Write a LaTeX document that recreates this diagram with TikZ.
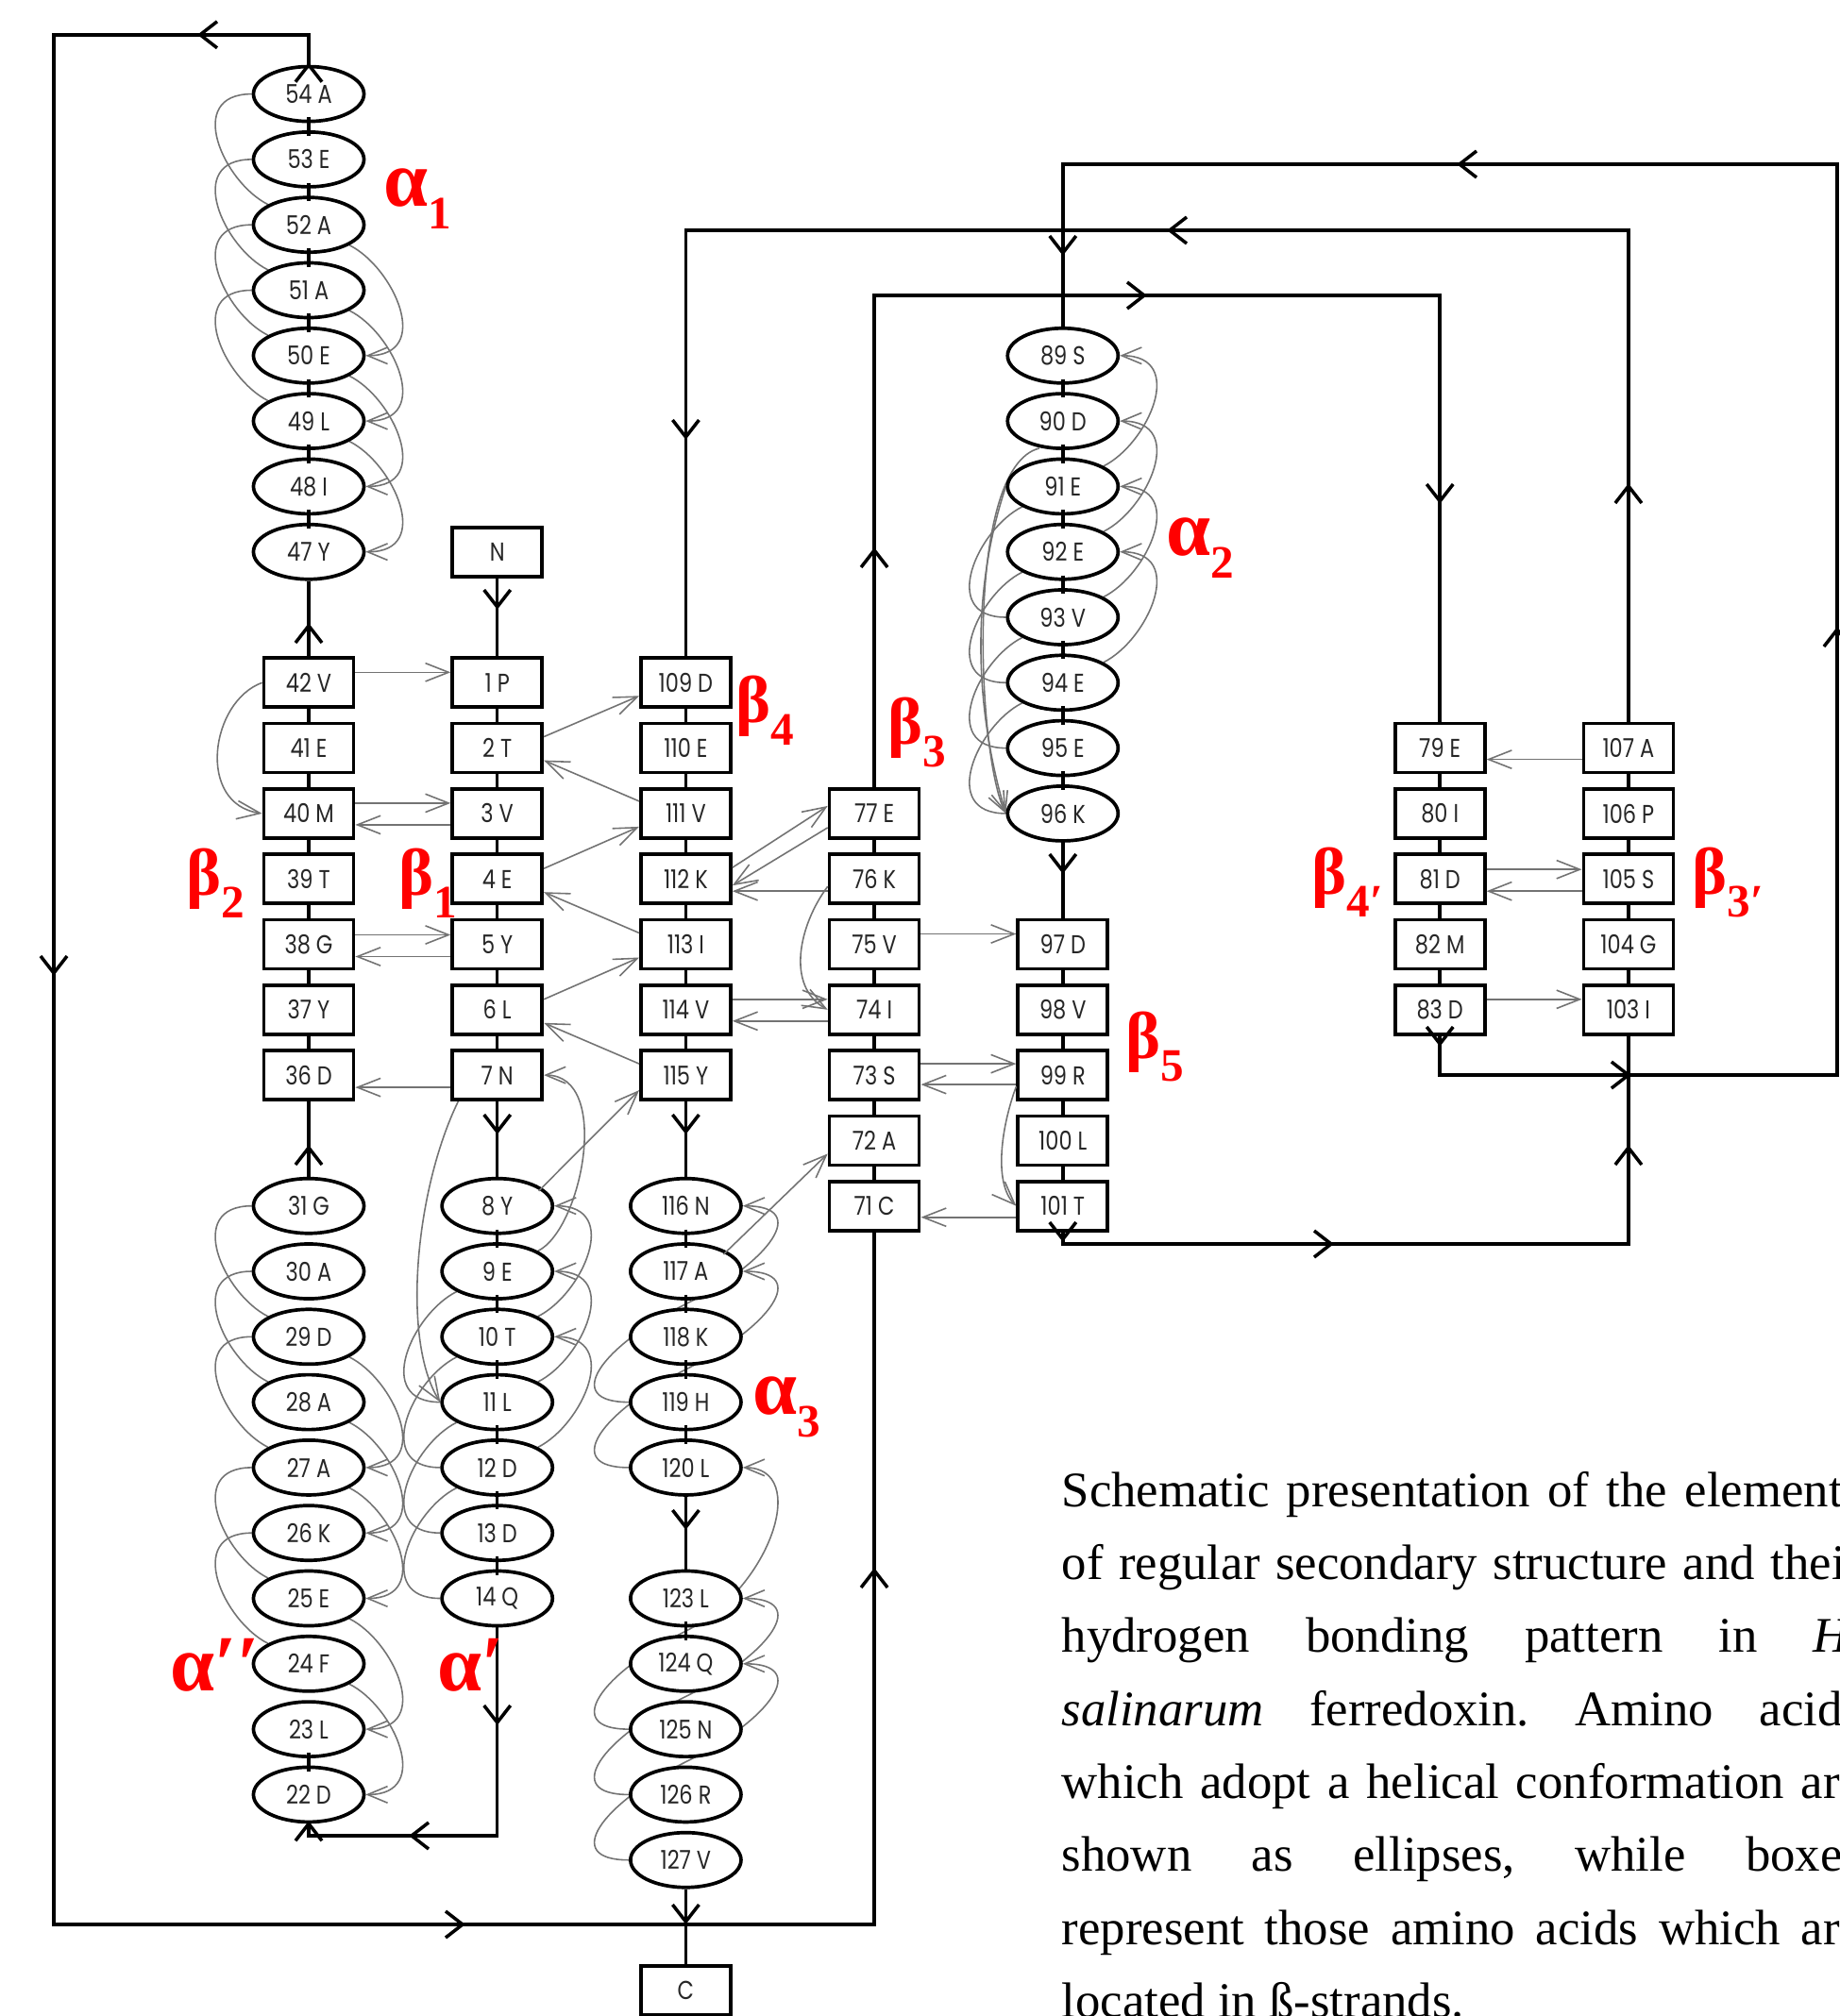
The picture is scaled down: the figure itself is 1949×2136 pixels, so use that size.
\documentclass[tikz,border=0pt]{standalone}
\usepackage{fontspec}
\setmainfont{Liberation Serif}
\newfontfamily\labfont{Poppins}[FakeStretch=0.82]
\newfontfamily\grkfont{Liberation Serif}
\usetikzlibrary{shapes.geometric,arrows.meta,calc}
\pgfdeclarelayer{bg}
\pgfsetlayers{bg,main}
\frenchspacing
\newcommand{\gsub}[1]{\raisebox{-7pt}{\fontsize{14}{14}\selectfont #1}}
\newcommand{\hx}[4]{\draw[hbl] (#1.west) .. controls +(-72,0) and ($(#2)+(-90,{45*#4})$) .. (#2) .. controls ($(#2)+(90,{-45*#4})$) and +(72,0) .. (#3.east);}
\begin{document}
\begin{tikzpicture}[x=0.01cm,y=0.01cm,
  res/.style={draw,line width=1.05pt,fill=white,inner sep=0pt,text=black!85,font=\labfont\fontsize{7.8}{9}\selectfont},
  ell/.style={res,ellipse,minimum width=1.17cm,minimum height=0.58cm},
  box/.style={res,rectangle,minimum width=0.95cm,minimum height=0.52cm},
  main/.style={line width=1pt,black},
  hbl/.style={line width=0.45pt,black!55,-{Straight Barb[length=6pt,width=5pt]}},
  hbs/.style={line width=0.45pt,black!55,-{Straight Barb[length=7pt,width=5.5pt]}},
  glab/.style={text=red,inner sep=0pt,anchor=base west},
  galpha/.style={glab,font=\grkfont\bfseries\fontsize{24}{24}\selectfont},
  gbeta/.style={glab,font=\grkfont\bfseries\fontsize{20}{20}\selectfont},
  mbarb/.pic={\draw[line width=1pt] (-18,14) -- (0,0) -- (-18,-14);}
]
\useasboundingbox (0,0) rectangle (1949,-2136);

% ---------------- nodes ----------------
\foreach \n/\r/\t in {54/0/54 A,53/1/53 E,52/2/52 A,51/3/51 A,50/4/50 E,49/5/49 L,48/6/48 I,47/7/47 Y,31/17/31 G,30/18/30 A,29/19/29 D,28/20/28 A,27/21/27 A,26/22/26 K,25/23/25 E,24/24/24 F,23/25/23 L,22/26/22 D}
  \node[ell] (a\n) at (327,{-(99.6+69.3*\r)}) {\t};
\foreach \n/\r/\t in {42/9/42 V,41/10/41 E,40/11/40 M,39/12/39 T,38/13/38 G,37/14/37 Y,36/15/36 D}
  \node[box] (a\n) at (327,{-(99.6+69.3*\r)}) {\t};
\node[box] (bN) at (526.7,{-(99.6+69.3*7)}) {N};
\foreach \n/\r/\t in {1/9/1 P,2/10/2 T,3/11/3 V,4/12/4 E,5/13/5 Y,6/14/6 L,7/15/7 N}
  \node[box] (b\n) at (526.7,{-(99.6+69.3*\r)}) {\t};
\foreach \n/\r/\t in {8/17/8 Y,9/18/9 E,10/19/10 T,11/20/11 L,12/21/12 D,13/22/13 D,14/23/14 Q}
  \node[ell] (b\n) at (526.7,{-(99.6+69.3*\r)}) {\t};
\foreach \n/\r/\t in {109/9/109 D,110/10/110 E,111/11/111 V,112/12/112 K,113/13/113 I,114/14/114 V,115/15/115 Y}
  \node[box] (c\n) at (726.4,{-(99.6+69.3*\r)}) {\t};
\foreach \n/\r/\t in {116/17/116 N,117/18/117 A,118/19/118 K,119/20/119 H,120/21/120 L,123/23/123 L,124/24/124 Q,125/25/125 N,126/26/126 R,127/27/127 V}
  \node[ell] (c\n) at (726.4,{-(99.6+69.3*\r)}) {\t};
\node[box] (cC) at (726.4,{-(99.6+69.3*29)}) {C};
\foreach \n/\r/\t in {77/11/77 E,76/12/76 K,75/13/75 V,74/14/74 I,73/15/73 S,72/16/72 A,71/17/71 C}
  \node[box] (d\n) at (926.1,{-(99.6+69.3*\r)}) {\t};
\foreach \n/\r/\t in {89/4/89 S,90/5/90 D,91/6/91 E,92/7/92 E,93/8/93 V,94/9/94 E,95/10/95 E,96/11/96 K}
  \node[ell] (e\n) at (1125.8,{-(99.6+69.3*\r)}) {\t};
\foreach \n/\r/\t in {97/13/97 D,98/14/98 V,99/15/99 R,100/16/100 L,101/17/101 T}
  \node[box] (e\n) at (1125.8,{-(99.6+69.3*\r)}) {\t};
\foreach \n/\r/\t in {79/10/79 E,80/11/80 I,81/12/81 D,82/13/82 M,83/14/83 D}
  \node[box] (f\n) at (1525.2,{-(99.6+69.3*\r)}) {\t};
\foreach \n/\r/\t in {107/10/107 A,106/11/106 P,105/12/105 S,104/13/104 G,103/14/103 I}
  \node[box] (g\n) at (1724.9,{-(99.6+69.3*\r)}) {\t};

% ---------------- helix hydrogen bonds (behind) ----------------
\coordinate (m1) at ($(c117)!0.5!(c118)$);
\coordinate (m2) at ($(c118)!0.5!(c119)$);
\coordinate (m3) at ($(c123)!0.5!(c124)$);
\coordinate (m4) at ($(c124)!0.5!(c125)$);
\coordinate (m5) at ($(c125)!0.5!(c126)$);
\begin{pgfonlayer}{bg}
\hx{a54}{a52}{a50}{1}
\hx{a53}{a51}{a49}{1}
\hx{a52}{a50}{a48}{1}
\hx{a51}{a49}{a47}{1}
\hx{a31}{a29}{a27}{1}
\hx{a30}{a28}{a26}{1}
\hx{a29}{a27}{a25}{1}
\hx{a27}{a25}{a23}{1}
\hx{a26}{a24}{a22}{1}
\hx{b11}{b9}{b7}{-1}
\hx{b12}{b10}{b8}{-1}
\hx{b13}{b11}{b9}{-1}
\hx{b14}{b12}{b10}{-1}
\hx{e93}{e91}{e89}{-1}
\hx{e94}{e92}{e90}{-1}
\hx{e95}{e93}{e91}{-1}
\hx{e96}{e94}{e92}{-1}
\hx{c119}{m1}{c116}{-1}
\hx{c120}{m2}{c117}{-1}
\hx{c125}{m3}{c120}{-1}
\hx{c126}{m4}{c123}{-1}
\hx{c127}{m5}{c124}{-1}
\draw[hbl] ($(e90.south)+(-25,2)$) .. controls +(-80,-20) and +(-30,60) .. (e96.west);
\draw[hbl] (e91.west) .. controls +(-40,-120) and +(-30,100) .. (e96.west);
\end{pgfonlayer}

% ---------------- chain connectors ----------------
\foreach \i in {47,...,53,22,...,30}{\pgfmathtruncatemacro\j{\i+1}
  \draw[main] ($(a\j.south)+(0,6)$) -- ($(a\i.north)+(0,-6)$);}
\foreach \i in {36,...,41}{\pgfmathtruncatemacro\j{\i+1}
  \draw[main] (a\j.south) -- (a\i.north);}
\foreach \i in {1,...,6}{\pgfmathtruncatemacro\j{\i+1}
  \draw[main] (b\i.south) -- (b\j.north);}
\foreach \i in {8,...,13}{\pgfmathtruncatemacro\j{\i+1}
  \draw[main] ($(b\i.south)+(0,6)$) -- ($(b\j.north)+(0,-6)$);}
\foreach \i in {109,...,114}{\pgfmathtruncatemacro\j{\i+1}
  \draw[main] (c\i.south) -- (c\j.north);}
\foreach \i in {116,...,119,123,...,126}{\pgfmathtruncatemacro\j{\i+1}
  \draw[main] ($(c\i.south)+(0,6)$) -- ($(c\j.north)+(0,-6)$);}
\foreach \i in {71,...,76}{\pgfmathtruncatemacro\j{\i+1}
  \draw[main] (d\j.south) -- (d\i.north);}
\foreach \i in {89,...,95}{\pgfmathtruncatemacro\j{\i+1}
  \draw[main] ($(e\i.south)+(0,6)$) -- ($(e\j.north)+(0,-6)$);}
\foreach \i in {97,...,100}{\pgfmathtruncatemacro\j{\i+1}
  \draw[main] (e\i.south) -- (e\j.north);}
\foreach \i in {79,...,82}{\pgfmathtruncatemacro\j{\i+1}
  \draw[main] (f\i.south) -- (f\j.north);}
\foreach \i in {103,...,106}{\pgfmathtruncatemacro\j{\i+1}
  \draw[main] (g\j.south) -- (g\i.north);}

% ---------------- main path between segments ----------------
\draw[main] (a47.south) -- (a42.north);
\pic[rotate=90] at (327,-663) {mbarb};
\draw[main] (a31.north) -- (a36.south);
\pic[rotate=90] at (327,-1216) {mbarb};
\coordinate (k1) at (526.7,-1945); \coordinate (k2) at (327,-1945);
\draw[main] (b14.south) -- (k1) -- (k2) -- (a22.south);
\pic[rotate=-90] at (526.7,-1825) {mbarb};
\pic[rotate=180] at (436,-1945) {mbarb};
\pic[rotate=90] at (a22.south) {mbarb};
\draw[main] (bN.south) -- (b1.north);
\pic[rotate=-90] at (526.7,-643) {mbarb};
\draw[main] (b7.south) -- (b8.north);
\pic[rotate=-90] at (526.7,-1199) {mbarb};
\coordinate (t1) at (327,-36.8); \coordinate (t2) at (57,-36.8);
\coordinate (t3) at (57,-2039); \coordinate (t4) at (926.1,-2039);
\draw[main] (a54.north) -- (t1) -- (t2) -- (t3) -- (t4) -- (d71.south);
\pic[rotate=90] at (a54.north) {mbarb};
\pic[rotate=180] at (212,-36.8) {mbarb};
\pic[rotate=-90] at (57,-1031) {mbarb};
\pic at (490,-2039) {mbarb};
\pic[rotate=90] at (926.1,-1664) {mbarb};
\coordinate (u1) at (926.1,-313); \coordinate (u2) at (1525.2,-313);
\draw[main] (d77.north) -- (u1) -- (u2) -- (f79.north);
\pic[rotate=90] at (926.1,-583) {mbarb};
\pic at (1212,-313) {mbarb};
\pic[rotate=-90] at (1525.2,-531) {mbarb};
\coordinate (v1) at (1525.2,-1139); \coordinate (v2) at (1946,-1139);
\coordinate (v3) at (1946,-174); \coordinate (v4) at (1125.8,-174);
\draw[main] (f83.south) -- (v1) -- (v2) -- (v3) -- (v4) -- (e89.north);
\pic[rotate=-90] at (1525.2,-1106) {mbarb};
\pic at (1724.9,-1139) {mbarb};
\pic[rotate=90] at (1946,-667) {mbarb};
\pic[rotate=180] at (1546,-174) {mbarb};
\pic[rotate=-90] at (1125.8,-268) {mbarb};
\draw[main] (e96.south) -- (e97.north);
\pic[rotate=-90] at (1125.8,-923) {mbarb};
\coordinate (w1) at (1125.8,-1318); \coordinate (w2) at (1724.9,-1318);
\draw[main] (e101.south) -- (w1) -- (w2) -- (g103.south);
\pic[rotate=-90] at (1125.8,-1313) {mbarb};
\pic at (1410,-1318) {mbarb};
\pic[rotate=90] at (1724.9,-1216) {mbarb};
\coordinate (x1) at (1724.9,-244); \coordinate (x2) at (726.4,-244);
\draw[main] (g107.north) -- (x1) -- (x2) -- (c109.north);
\pic[rotate=90] at (1724.9,-515) {mbarb};
\pic[rotate=180] at (1239,-244) {mbarb};
\pic[rotate=-90] at (726.4,-463) {mbarb};
\draw[main] (c115.south) -- (c116.north);
\pic[rotate=-90] at (726.4,-1199) {mbarb};
\draw[main] (c120.south) -- (c123.north);
\pic[rotate=-90] at (726.4,-1618) {mbarb};
\draw[main] (c127.south) -- (cC.north);
\pic[rotate=-90] at (726.4,-2036) {mbarb};

% ---------------- strand hydrogen bonds ----------------
\draw[hbs] ($(a42.east)+(0,11)$) -- ($(b1.west)+(0,11)$);
\draw[hbs] (a42.west) .. controls +(-55,-20) and +(-70,10) .. (a40.west);
\draw[hbs] ($(a40.east)+(0,11)$) -- ($(b3.west)+(0,11)$);
\draw[hbs] ($(b3.west)+(0,-12)$) -- ($(a40.east)+(0,-12)$);
\draw[hbs] ($(a38.east)+(0,10)$) -- ($(b5.west)+(0,10)$);
\draw[hbs] ($(b5.west)+(0,-13)$) -- ($(a38.east)+(0,-13)$);
\draw[hbs] ($(b7.west)+(0,-13)$) -- ($(a36.east)+(0,-13)$);
\draw[hbs] ($(b2.east)+(0,12)$) -- ($(c109.west)+(0,-14)$);
\draw[hbs] ($(c111.west)+(0,13)$) -- ($(b2.east)+(0,-13)$);
\draw[hbs] ($(b4.east)+(0,11)$) -- ($(c111.west)+(0,-14)$);
\draw[hbs] ($(c113.west)+(0,12)$) -- ($(b4.east)+(0,-14)$);
\draw[hbs] ($(b6.east)+(0,11)$) -- ($(c113.west)+(0,-14)$);
\draw[hbs] ($(c115.west)+(0,12)$) -- ($(b6.east)+(0,-14)$);
\draw[hbs] ($(b8)+(44,16)$) -- ($(c115.west)+(0,-16)$);
\draw[hbs] ($(b7.south west)+(8,0)$) .. controls (440,-1260) and (425,-1420) .. (b11.west);
\draw[hbs] ($(c112.east)+(0,12)$) -- ($(d77.west)+(0,8)$);
\draw[hbs] ($(d77.west)+(0,-15)$) -- ($(c112.east)+(0,-7)$);
\draw[hbs] ($(d76.west)+(0,-13)$) -- ($(c112.east)+(0,-13)$);
\draw[hbs] ($(c114.east)+(0,11)$) -- ($(d74.west)+(0,11)$);
\draw[hbs] ($(d74.west)+(0,-12)$) -- ($(c114.east)+(0,-12)$);
\draw[hbs] ($(d76.west)+(0,-8)$) .. controls +(-30,-40) and +(-45,25) .. (d74.west);
\draw[hbs] ($(c117)+(40,18)$) -- ($(d72.west)+(0,-14)$);
\draw[hbs] ($(d75.east)+(0,11)$) -- ($(e97.west)+(0,11)$);
\draw[hbs] ($(d73.east)+(0,12)$) -- ($(e99.west)+(0,12)$);
\draw[hbs] ($(e99.west)+(0,-10)$) -- ($(d73.east)+(0,-10)$);
\draw[hbs] ($(e99.west)+(0,-12)$) .. controls +(-15,-40) and +(-25,25) .. (e101.west);
\draw[hbs] ($(e101.west)+(0,-12)$) -- ($(d71.east)+(0,-12)$);
\draw[hbs] ($(g107.west)+(0,-12)$) -- ($(f79.east)+(0,-12)$);
\draw[hbs] ($(f81.east)+(0,10)$) -- ($(g105.west)+(0,10)$);
\draw[hbs] ($(g105.west)+(0,-13)$) -- ($(f81.east)+(0,-13)$);
\draw[hbs] ($(f83.east)+(0,11)$) -- ($(g103.west)+(0,11)$);

% ---------------- labels ----------------
\node[galpha] (lA1) at (406,-218) {α\gsub{1}};
\node[galpha] (lA2) at (1235,-588) {α\gsub{2}};
\node[galpha] (lA3) at (797,-1498) {α\gsub{3}};
\node[galpha] (lApp) at (180,-1791) {α′′};
\node[galpha] (lAp) at (463,-1791) {α′};
\node[gbeta] (lB2) at (197,-948) {β\gsub{2}};
\node[gbeta] (lB1) at (422,-948) {β\gsub{1}};
\node[gbeta] (lB4) at (779,-765) {β\gsub{4}};
\node[gbeta] (lB3) at (940,-788) {β\gsub{3}};
\node[gbeta] (lB5) at (1192,-1121) {β\gsub{5}};
\node[gbeta] (lB4p) at (1389,-947) {β\gsub{4′}};
\node[gbeta] (lB3p) at (1792,-947) {β\gsub{3′}};

% ---------------- caption ----------------
\node[anchor=base west,inner sep=0pt] (cap) at (1124,-1596) {\parbox[t]{241pt}{\fontsize{15}{22}\selectfont
\makebox[241pt][s]{Schematic presentation of the elements}\\
\makebox[241pt][s]{of regular secondary structure and their}\\
\makebox[241pt][s]{hydrogen bonding pattern in \textit{H.}}\\
\makebox[241pt][s]{\textit{salinarum} ferredoxin. Amino acids}\\
\makebox[241pt][s]{which adopt a helical conformation are}\\
\makebox[241pt][s]{shown as ellipses, while boxes}\\
\makebox[241pt][s]{represent those amino acids which are}\\
located in ß-strands.}};
\end{tikzpicture}
\end{document}
